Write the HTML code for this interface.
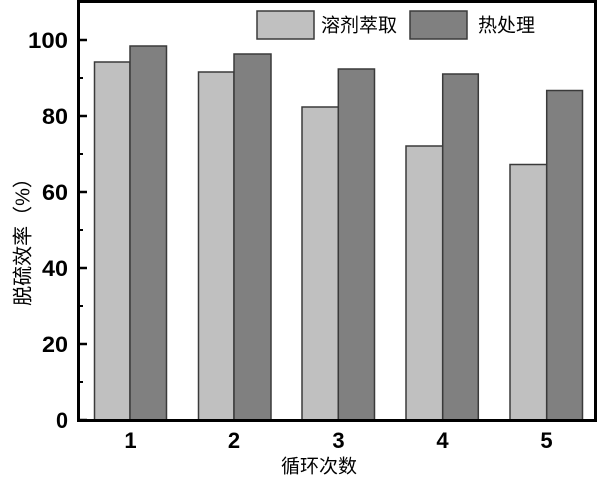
<!DOCTYPE html>
<html>
<head>
<meta charset="utf-8">
<style>
html,body{margin:0;padding:0;background:#fff;}
svg{display:block;}
.tk{font-family:"Liberation Sans",Arial,sans-serif;font-weight:bold;font-size:22px;fill:#000;}
.cj{font-family:"Liberation Sans","Noto Sans CJK SC",sans-serif;font-size:19px;fill:#000;}
</style>
</head>
<body>
<svg width="600" height="482" viewBox="0 0 600 482" xmlns="http://www.w3.org/2000/svg">
<rect x="0" y="0" width="600" height="482" fill="#fff"/>
<!-- bars -->
<g stroke="#3a3a3a" stroke-width="1.5">
<rect x="94.5" y="62" width="35.5" height="358" fill="#c0c0c0"/>
<rect x="130" y="46" width="36.5" height="374" fill="#808080"/>
<rect x="198.5" y="72" width="35.5" height="348" fill="#c0c0c0"/>
<rect x="234" y="54" width="37" height="366" fill="#808080"/>
<rect x="302" y="107" width="36.3" height="313" fill="#c0c0c0"/>
<rect x="338.3" y="69" width="36.2" height="351" fill="#808080"/>
<rect x="406" y="146" width="36.7" height="274" fill="#c0c0c0"/>
<rect x="442.7" y="74" width="35.6" height="346" fill="#808080"/>
<rect x="510" y="164.5" width="36.7" height="255.5" fill="#c0c0c0"/>
<rect x="546.7" y="90.5" width="35.8" height="329.5" fill="#808080"/>
</g>
<!-- frame -->
<rect x="78.5" y="1.5" width="517" height="419" fill="none" stroke="#000" stroke-width="3"/>
<!-- major ticks -->
<g stroke="#000" stroke-width="2.5">
<line x1="80" y1="420" x2="87" y2="420"/>
<line x1="80" y1="344" x2="87" y2="344"/>
<line x1="80" y1="268" x2="87" y2="268"/>
<line x1="80" y1="192" x2="87" y2="192"/>
<line x1="80" y1="116" x2="87" y2="116"/>
<line x1="80" y1="40" x2="87" y2="40"/>
</g>
<g stroke="#000" stroke-width="2">
<line x1="80" y1="382" x2="83" y2="382"/>
<line x1="80" y1="306" x2="83" y2="306"/>
<line x1="80" y1="230" x2="83" y2="230"/>
<line x1="80" y1="154" x2="83" y2="154"/>
<line x1="80" y1="78" x2="83" y2="78"/>
</g>
<!-- y tick labels -->
<g class="tk" text-anchor="end" style="font-size:22.5px">
<text x="68" y="428" textLength="12" lengthAdjust="spacingAndGlyphs">0</text>
<text x="68" y="352" textLength="26" lengthAdjust="spacingAndGlyphs">20</text>
<text x="68" y="276" textLength="26" lengthAdjust="spacingAndGlyphs">40</text>
<text x="68" y="200" textLength="26" lengthAdjust="spacingAndGlyphs">60</text>
<text x="68" y="124" textLength="26" lengthAdjust="spacingAndGlyphs">80</text>
<text x="68" y="48" textLength="40" lengthAdjust="spacingAndGlyphs">100</text>
</g>
<!-- x tick labels -->
<g class="tk" text-anchor="middle">
<text x="130.5" y="448">1</text>
<text x="234" y="448">2</text>
<text x="338.5" y="448">3</text>
<text x="442.5" y="448">4</text>
<text x="546.5" y="448">5</text>
</g>
<!-- axis titles -->
<text class="cj" x="319" y="467" text-anchor="middle" dominant-baseline="central">循环次数</text>
<text class="cj" transform="translate(23.5,237) rotate(-90)" x="0" y="0" text-anchor="middle" dominant-baseline="central" style="font-size:20px">脱硫效率（%）</text>
<!-- legend -->
<rect x="257" y="11" width="57" height="28" fill="#c0c0c0" stroke="#3a3a3a" stroke-width="1.5"/>
<text class="cj" x="321" y="26" dominant-baseline="central">溶剂萃取</text>
<rect x="410" y="11" width="57" height="28" fill="#808080" stroke="#3a3a3a" stroke-width="1.5"/>
<text class="cj" x="478" y="26" dominant-baseline="central">热处理</text>
</svg>
</body>
</html>
